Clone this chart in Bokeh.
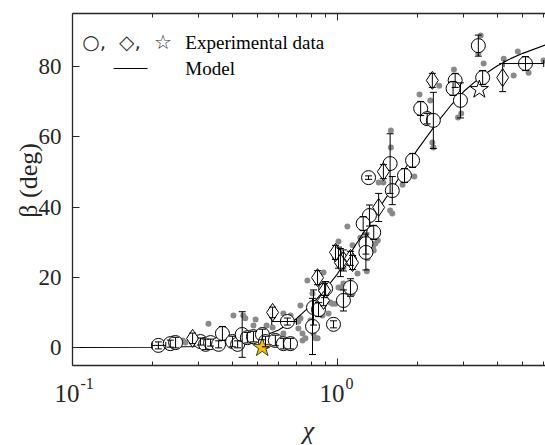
import math
from bokeh.plotting import figure
from bokeh.models import (ColumnDataSource, Whisker, TeeHead, FixedTicker, LogAxis,
                          LinearAxis, Label, Range1d, CustomJSTickFormatter)
from bokeh.embed import file_html
from bokeh.resources import INLINE

# ---------------- data ----------------
model_x = [0.1, 0.2, 0.3, 0.4, 0.5, 0.6, 0.7, 0.8, 0.9, 1.0, 1.2, 1.4, 1.6, 1.8,
           2.0, 2.4, 2.7, 3.0, 3.5, 4.0, 4.5, 5.0, 6.1]
model_y = [0.0, 0.05, 0.3, 1.2, 2.6, 5.0, 8.2, 12.2, 16.6, 21.0, 30.5, 38.5, 45.0,
           51.0, 56.3, 64.5, 69.3, 73.0, 77.3, 80.2, 82.3, 83.8, 86.2]

circ_x = [0.211, 0.234, 0.245, 0.304, 0.318, 0.332, 0.356, 0.368, 0.402, 0.420,
          0.437, 0.457, 0.482, 0.521, 0.535, 0.583, 0.625, 0.665, 0.647, 0.805,
          0.812, 0.848, 0.966, 0.902, 1.12, 1.053, 1.31, 1.58, 1.61, 1.32,
          1.25, 1.37, 1.28, 1.28, 2.06, 2.18, 2.30, 2.78, 2.73, 2.91,
          3.53, 1.92, 1.79, 3.40, 5.12]
circ_y = [0.6, 1.1, 1.4, 1.7, 0.9, 1.4, 0.9, 4.0, 1.7, 0.9,
          3.7, 2.8, 3.1, 3.7, 1.7, 2.0, 1.1, 1.1, 7.4, 6.0,
          11.4, 10.8, 6.6, 16.8, 17.1, 13.4, 48.4, 52.4, 44.7, 37.6,
          35.3, 32.8, 29.6, 27.1, 68.1, 65.2, 64.7, 76.1, 73.8, 70.4,
          76.9, 53.3, 49.0, 86.0, 80.9]
circ_err = [1.0, 1.0, 1.5, 1.0, 1.5, 1.0, 1.0, 2.0, 1.5, 1.0,
            6.5, 1.5, 1.5, 1.5, 1.5, 1.5, 1.5, 1.5, 1.0, 8.0,
            5.0, 2.0, 1.0, 2.0, 2.5, 3.0, 0.5, 8.5, 4.0, 3.0,
            2.0, 2.0, 3.0, 5.0, 2.0, 1.5, 8.0, 2.0, 2.0, 5.0,
            2.0, 2.0, 2.0, 3.0, 2.0]

hbar_y = [0.6, 7.4, 80.9]
hbar_lo = [0.200, 0.565, 4.25]
hbar_hi = [0.225, 0.700, 6.00]

dia_x = [0.284, 0.569, 0.841, 0.894, 0.886, 1.009, 1.053, 1.12, 1.14, 1.026,
         0.983, 1.49, 1.43, 2.28, 4.20]
dia_y = [2.6, 10.0, 19.9, 16.2, 13.4, 25.6, 24.8, 25.4, 24.2, 24.2,
         27.1, 50.1, 39.9, 76.1, 76.9]
dia_err = [1.5, 1.5, 2.0, 2.0, 1.5, 3.0, 3.0, 2.0, 2.0, 4.0,
           2.0, 2.0, 4.0, 2.0, 4.0]

star_x = [3.43]
star_y = [73.5]
gold_x = [0.52]
gold_y = [0.0]

dot_x = [0.229, 0.240, 0.261, 0.267, 0.296, 0.326, 0.326, 0.356, 0.405, 0.441,
         0.449, 0.482, 0.491, 0.512, 0.540, 0.569, 0.569, 0.625, 0.625, 0.665,
         0.712, 0.712, 0.725, 0.725, 0.738, 0.738, 0.757, 0.770, 0.791, 0.805,
         0.812, 0.826, 0.841, 0.863, 0.878, 0.886, 0.925, 0.941, 0.958, 0.983,
         1.009, 1.009, 1.017, 1.053, 1.053, 1.026, 1.090, 1.100, 1.14, 1.14,
         1.19, 1.22, 1.29, 1.30, 1.36, 1.37, 1.39, 1.42, 1.43, 1.49,
         1.58, 1.61, 1.59, 1.59, 1.76, 1.95, 2.04, 2.11, 2.18, 2.24,
         2.28, 2.30, 2.42, 2.75, 2.85, 2.93, 3.40, 3.47, 3.56, 4.24,
         4.62, 4.79, 5.26, 5.99]
dot_y = [1.4, 2.6, 2.0, 1.4, 2.8, 6.8, 2.0, 2.8, 9.1, 9.1,
         8.3, 6.3, 8.0, 4.3, 6.3, 9.7, 5.7, 9.7, 4.0, 9.1,
         7.4, 5.4, 8.3, 12.0, 4.0, 2.0, 2.6, 19.1, 7.7, 15.4,
         4.0, 2.6, 2.6, 12.5, 9.1, 21.4, 9.7, 12.8, 12.5, 12.5,
         17.1, 30.2, 26.8, 18.2, 22.8, 17.1, 34.5, 15.7, 15.4, 29.1,
         21.1, 31.3, 21.7, 25.4, 28.5, 27.6, 29.6, 30.5, 47.0, 47.0,
         39.0, 38.2, 61.8, 57.0, 46.4, 48.7, 72.1, 64.7, 66.7, 70.4,
         58.4, 57.0, 74.6, 79.2, 65.5, 66.7, 83.8, 88.9, 80.9, 82.3,
         77.5, 84.3, 78.3, 81.8]

x_major = [0.1, 1.0]
x_major_exp = ["-1", "0"]
x_minor = [0.2, 0.3, 0.4, 0.5, 0.6, 0.7, 0.8, 0.9, 2, 3, 4, 5, 6, 7, 8, 9]
y_ticks = [0, 20, 40, 60, 80]
y_tick_labels = ["0", "20", "40", "60", "80"]

# axes box (data limits of the original axes)
X_MIN, X_MAX = 0.1, 6.094
Y_MIN, Y_MAX = -5.1, 95.2

# ---------------- figure ----------------
SERIF = "Liberation Serif"
AX = "#262626"
TXT = "#262626"

# the frame fills the whole canvas; the axes sit at fixed data locations
p = figure(width=545, height=445, x_axis_type="log",
           x_range=Range1d(0.05352, 6.094), y_range=Range1d(-27.92, 98.86),
           x_axis_location=None, y_axis_location=None,
           output_backend="svg", toolbar_location=None, min_border=0)
p.outline_line_color = None
p.background_fill_color = "white"
p.border_fill_color = "white"
p.grid.visible = False

blank = CustomJSTickFormatter(code="return '';")


def style_axis(ax):
    ax.formatter = blank
    ax.axis_line_color = AX
    ax.axis_line_width = 1.3
    ax.major_tick_line_color = AX
    ax.minor_tick_line_color = AX
    ax.major_tick_in = 7
    ax.major_tick_out = 0
    ax.minor_tick_in = 4
    ax.minor_tick_out = 0
    ax.major_label_text_font_size = "0px"
    ax.major_label_standoff = 0


xb = LogAxis(ticker=FixedTicker(ticks=x_major, minor_ticks=x_minor),
             fixed_location=Y_MIN, bounds=(X_MIN, X_MAX))
xt = LogAxis(ticker=FixedTicker(ticks=x_major, minor_ticks=x_minor),
             fixed_location=Y_MAX, bounds=(X_MIN, X_MAX))
yl = LinearAxis(ticker=FixedTicker(ticks=y_ticks),
                fixed_location=X_MIN, bounds=(Y_MIN, Y_MAX))
for ax in (xb, xt, yl):
    style_axis(ax)
p.add_layout(xb, "below")
p.add_layout(xt, "above")
p.add_layout(yl, "left")

# tick labels (serif text)
Y_LABEL_X = 0.0909
for t, s in zip(y_ticks, y_tick_labels):
    p.add_layout(Label(x=Y_LABEL_X, y=t, text=s, text_font=SERIF,
                       text_font_size="23px", text_align="right",
                       text_baseline="middle", text_color=TXT))
X_LABEL_Y = -13.1
for t, e in zip(x_major, x_major_exp):
    p.add_layout(Label(x=t, y=X_LABEL_Y, text="10", text_font=SERIF,
                       text_font_size="25px", text_align="right", x_offset=7,
                       text_baseline="middle", text_color=TXT))
    p.add_layout(Label(x=t, y=X_LABEL_Y, text=e, text_font=SERIF,
                       text_font_size="16px", text_align="left", x_offset=8,
                       y_offset=10, text_baseline="middle", text_color=TXT))

# axis titles
p.add_layout(Label(x=0.777, y=-23.7, text="χ", text_font=SERIF,
                   text_font_style="italic", text_font_size="26px",
                   text_align="center", text_baseline="middle", text_color=TXT))
p.add_layout(Label(x=0.0682, y=47.6, text="β (deg)", text_font=SERIF,
                   text_font_size="26px", angle=math.pi / 2,
                   text_align="center", text_baseline="middle", text_color=TXT))

# gray dots
p.scatter(dot_x, dot_y, size=6, fill_color="#8a8a8a", line_color=None)

# model
p.line(model_x, model_y, line_color="black", line_width=1.1)

# markers
p.scatter(circ_x, circ_y, marker="circle", size=14, fill_color="white",
          line_color="black", line_width=1)
p.scatter(dia_x, dia_y, marker="diamond", size=18, fill_color="white",
          line_color="black", line_width=1)
p.scatter(star_x, star_y, marker="star", size=19, fill_color="white",
          line_color="black", line_width=1)
p.scatter(gold_x, gold_y, marker="star", size=20, fill_color="#F5C000",
          line_color="#404040", line_width=1)

# error bars
ex = circ_x + dia_x
ey = circ_y + dia_y
ee = circ_err + dia_err
esrc = ColumnDataSource(dict(x=ex,
                             up=[a + b for a, b in zip(ey, ee)],
                             lo=[a - b for a, b in zip(ey, ee)]))
p.add_layout(Whisker(source=esrc, base="x", upper="up", lower="lo",
                     dimension="height", line_color="black", line_width=1,
                     upper_head=TeeHead(size=7, line_color="black", line_width=1),
                     lower_head=TeeHead(size=7, line_color="black", line_width=1),
                     level="annotation"))
hsrc = ColumnDataSource(dict(y=hbar_y, lo=hbar_lo, hi=hbar_hi))
p.add_layout(Whisker(source=hsrc, base="y", upper="hi", lower="lo",
                     dimension="width", line_color="black", line_width=1,
                     upper_head=TeeHead(size=7, line_color="black", line_width=1),
                     lower_head=TeeHead(size=7, line_color="black", line_width=1),
                     level="annotation"))

# legend (drawn as text + line)
row1 = 86.9
row2 = 79.5
for xx, t in ((0.109, "○,"), (0.1500, "◇,"), (0.2030, "☆")):
    p.add_layout(Label(x=xx, y=row1, text=t, text_font="DejaVu Sans",
                       text_font_size="20px", text_baseline="middle",
                       text_color="#333333"))
p.add_layout(Label(x=0.2667, y=row1, text="Experimental data", text_font=SERIF,
                   text_font_size="19px", text_baseline="middle", text_color="black"))
p.add_layout(Label(x=0.2667, y=row2, text="Model", text_font=SERIF,
                   text_font_size="19px", text_baseline="middle", text_color="black"))
p.line([0.143, 0.192], [row2, row2], line_color="black", line_width=1.1)

open("out.html", "w").write(file_html(p, INLINE))
